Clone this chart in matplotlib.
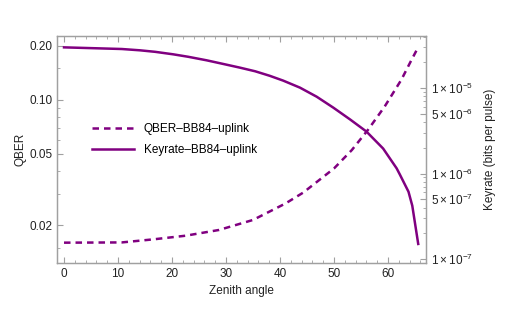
import matplotlib
matplotlib.use("Agg")
import matplotlib.pyplot as plt
from matplotlib.ticker import FixedLocator, FixedFormatter, NullFormatter
import numpy as np

plt.rcParams['font.family'] = ['Liberation Sans', 'DejaVu Sans']
plt.rcParams['mathtext.fontset'] = 'custom'
plt.rcParams['mathtext.rm'] = 'Liberation Sans'

# Data
qber_angle = [0, 10.7, 16.5, 22.5, 28.7, 35, 41, 44.3, 50, 53.3, 56.3, 59.4, 62.5, 64.1, 65.5]
qber_value = [0.01597, 0.01602, 0.01666, 0.01746, 0.01880, 0.02138, 0.0264, 0.03038,
              0.04142, 0.05246, 0.06804, 0.0919, 0.1298, 0.1613, 0.1942]
key_angle = [0, 10.7, 14.1, 16.9, 20.2, 23, 26.4, 29.2, 32.6, 35.4, 38.1, 40.6, 43.7,
             46.8, 49.9, 53, 56, 59.1, 61.6, 62.2, 63.8, 64.5, 65.6]
key_value = [2.99e-5, 2.86e-5, 2.76e-5, 2.65e-5, 2.48e-5, 2.32e-5, 2.11e-5, 1.93e-5,
             1.73e-5, 1.57e-5, 1.39e-5, 1.22e-5, 1.01e-5, 7.91e-6, 5.88e-6, 4.28e-6,
             3.10e-6, 1.96e-6, 1.15e-6, 9.73e-7, 6.12e-7, 4.2e-7, 1.50e-7]

left_ticks = [0.02, 0.05, 0.10, 0.20]
left_labels = ["0.02", "0.05", "0.10", "0.20"]
left_minor = [0.015, 0.03, 0.04, 0.06, 0.07, 0.08, 0.09, 0.15]
right_ticks = [1e-7, 5e-7, 1e-6, 5e-6, 1e-5]
right_labels = [r"$1\times10^{-7}$", r"$5\times10^{-7}$", r"$1\times10^{-6}$",
                r"$5\times10^{-6}$", r"$1\times10^{-5}$"]
x_ticks = [0, 10, 20, 30, 40, 50, 60]

color = '#800080'
frame = '#a0a0a0'

fig = plt.figure(figsize=(5.18, 3.11), dpi=100)
ax = fig.add_axes([57/518, 1-263/311, (426-57)/518, (263-36)/311])
ax2 = ax.twinx()

l1, = ax.plot(qber_angle, qber_value, color=color, lw=1.8, ls=(0, (2.6, 2.0)),
              label='QBER\u2013BB84\u2013uplink', solid_joinstyle='round')
l2, = ax2.plot(key_angle, key_value, color=color, lw=1.8, label='Keyrate\u2013BB84\u2013uplink',
               solid_joinstyle='round')

ax.set_yscale('log')
ax2.set_yscale('log')
ax.set_xlim(-1.3, 67.04)
ax.set_ylim(0.0123, 0.227)
ax2.set_ylim(0.898e-7, 4.06e-5)

ax.xaxis.set_major_locator(FixedLocator(x_ticks))
ax.xaxis.set_minor_locator(FixedLocator(np.arange(0, 67, 2)))
ax.yaxis.set_major_locator(FixedLocator(left_ticks))
ax.yaxis.set_major_formatter(FixedFormatter(left_labels))
ax.yaxis.set_minor_locator(FixedLocator(left_minor))
ax.yaxis.set_minor_formatter(NullFormatter())

rminor = []
for d in [1e-7, 1e-6, 1e-5]:
    for m in range(2, 10):
        if m != 5:
            rminor.append(m * d)
ax2.yaxis.set_major_locator(FixedLocator(right_ticks))
ax2.yaxis.set_major_formatter(FixedFormatter(right_labels))
ax2.yaxis.set_minor_locator(FixedLocator(rminor))
ax2.yaxis.set_minor_formatter(NullFormatter())

for a in (ax, ax2):
    for s in a.spines.values():
        s.set_color(frame)
        s.set_linewidth(0.9)
ax.tick_params(axis='both', which='both', direction='in', color=frame, labelsize=8.5,
               labelcolor='#222222', top=True, right=False)
ax.tick_params(which='major', length=4)
ax.tick_params(which='minor', length=2)
ax2.tick_params(axis='y', which='both', direction='in', color=frame, labelsize=8.5,
                labelcolor='#222222')
ax2.tick_params(which='major', length=4)
ax2.tick_params(which='minor', length=2)

ax.set_xlabel('Zenith angle', fontsize=8.5, color='#222222')
ax.set_ylabel('QBER', fontsize=8.5, color='#222222', labelpad=2)
ax2.set_ylabel('Keyrate (bits per pulse)', fontsize=8.5, color='#222222', labelpad=8)

ax.legend(handles=[l1, l2], loc='upper left', bbox_to_anchor=(0.065, 0.665),
          frameon=False, fontsize=8.5, handlelength=3.6, labelspacing=0.8)

fig.savefig('out.png', dpi=100)
